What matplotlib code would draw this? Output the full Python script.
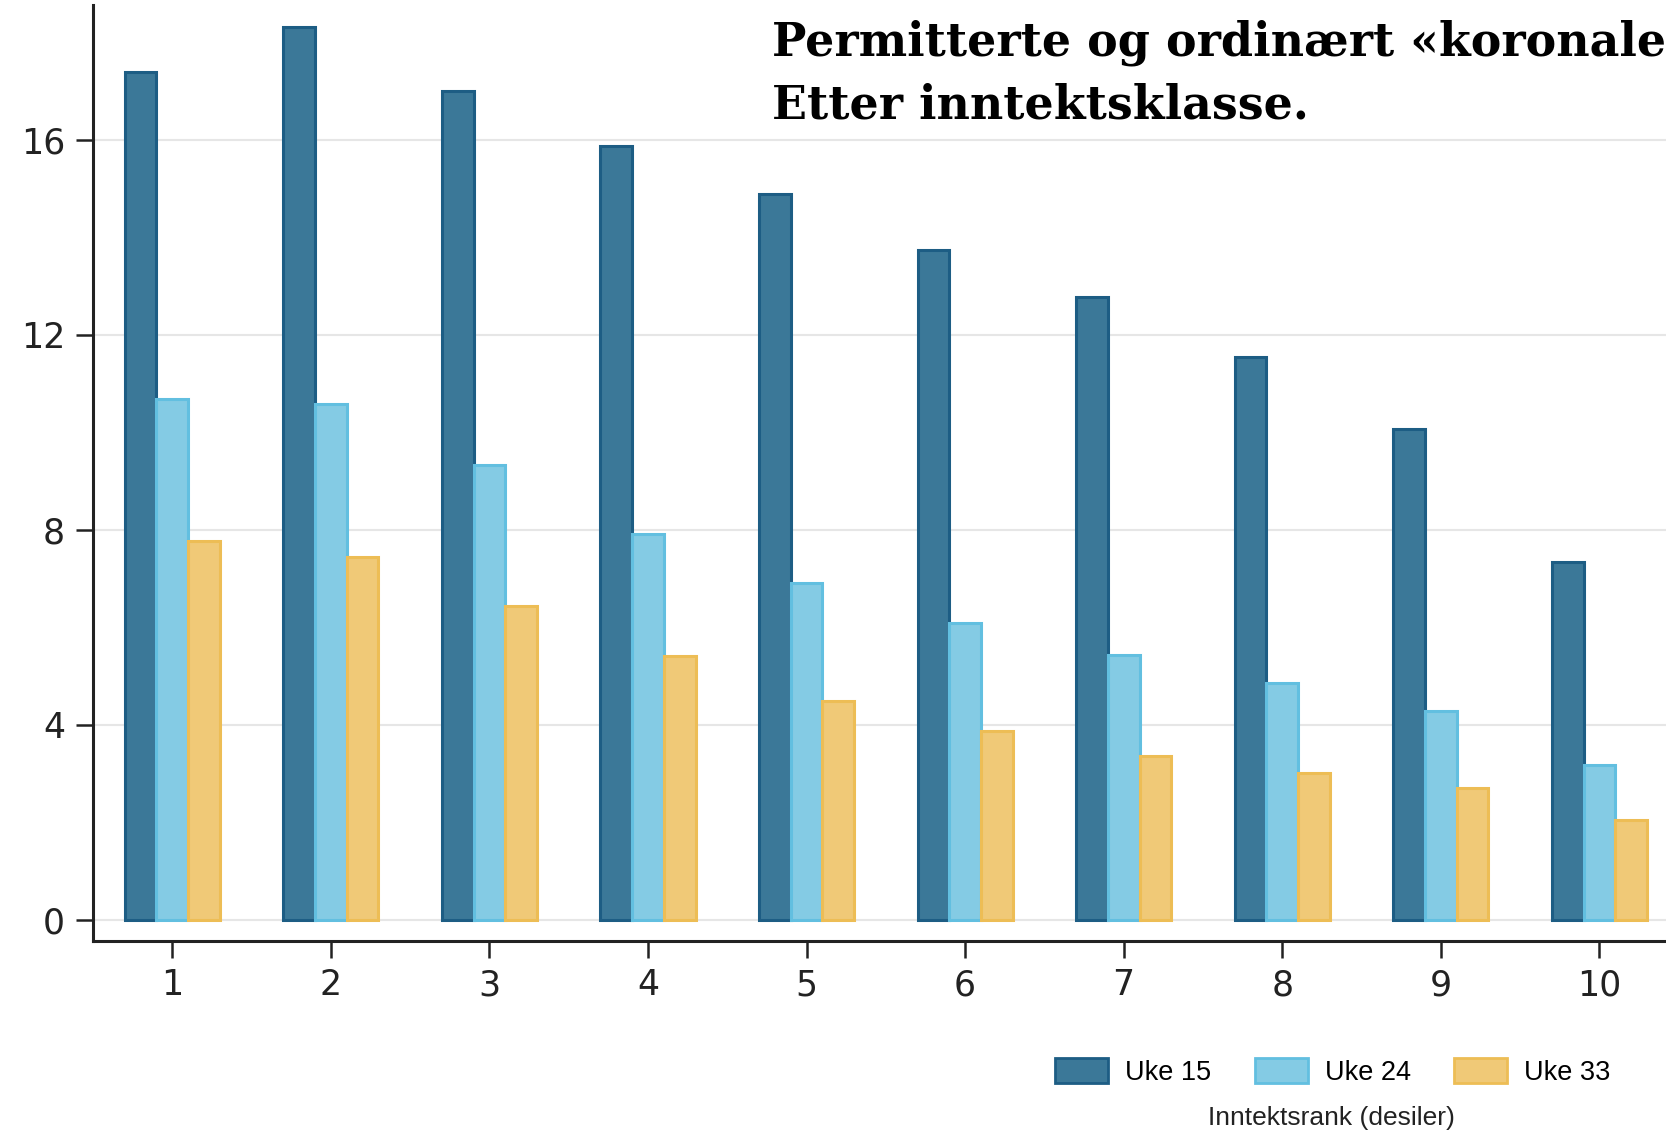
import numpy as np
import matplotlib
matplotlib.use("Agg")
import matplotlib.pyplot as plt
from matplotlib.patches import Patch

# Andel permitterte / ledige etter inntektsdesil
deciles = [1, 2, 3, 4, 5, 6, 7, 8, 9, 10]
uke15 = [17.40, 18.31, 17.00, 15.87, 14.89, 13.75, 12.77, 11.55, 10.07, 7.35]
uke24 = [10.68, 10.59, 9.33, 7.91, 6.91, 6.08, 5.43, 4.86, 4.29, 3.18]
uke33 = [7.78, 7.45, 6.43, 5.41, 4.49, 3.88, 3.36, 3.01, 2.70, 2.05]
series_names = ["Uke 15", "Uke 24", "Uke 33"]
yticks = [0, 4, 8, 12, 16]

fills = ["#3b7898", "#84cbe4", "#f0c977"]
edges = ["#1d5d84", "#62bfe0", "#edbd55"]

plt.rcParams['font.family'] = ['Liberation Sans', 'DejaVu Sans']

fig = plt.figure(figsize=(16.66, 11.35), dpi=100)
ax = fig.add_axes([0.0558, 0.1712, 0.9442, 0.8244])

x = np.array(deciles, dtype=float)
w = 0.2
for i, vals in enumerate([uke15, uke24, uke33]):
    ax.bar(x + (i - 1) * w, vals, width=w, color=fills[i], edgecolor=edges[i],
           linewidth=2.2, zorder=3)

ax.set_xlim(0.5, 10.42)
ax.set_ylim(-0.43, 18.77)
ax.set_xticks(deciles)
ax.set_yticks(yticks)
ax.set_yticklabels([str(t) for t in yticks])
ax.tick_params(axis='both', labelsize=25, length=12, width=1.8, direction='out',
               color='#222222', labelcolor='#222222')
for lab in ax.get_xticklabels() + ax.get_yticklabels():
    lab.set_family('DejaVu Sans')
ax.tick_params(axis='y', pad=8)
ax.tick_params(axis='x', pad=8)
ax.grid(axis='y', color='#e6e6e6', linewidth=1.5, zorder=0)
for s in ['top', 'right']:
    ax.spines[s].set_visible(False)
for s in ['left', 'bottom']:
    ax.spines[s].set_linewidth(2.2)
    ax.spines[s].set_color('#222222')

handles = [Patch(facecolor=fills[i], edgecolor=edges[i], linewidth=2) for i in range(3)]
fig.legend(handles, series_names, loc='center left', bbox_to_anchor=(0.6187, 0.0555),
           ncol=3, frameon=False, fontsize=19.5, handlelength=1.95, handleheight=1.05,
           columnspacing=1.6, handletextpad=0.64, borderpad=0.4)

fig.text(0.799, 0.0150, "Inntektsrank (desiler)", ha='center', va='center',
         fontsize=19, color='#222222')

fig.text(0.4635, 0.9515, "Permitterte og ordinært «koronaledige»",
         ha='left', va='baseline', fontsize=33, fontweight='bold',
         family='DejaVu Serif', color='black')
fig.text(0.4635, 0.8952, "Etter inntektsklasse.",
         ha='left', va='baseline', fontsize=33, fontweight='bold',
         family='DejaVu Serif', color='black')

fig.savefig("out.png", dpi=100)
